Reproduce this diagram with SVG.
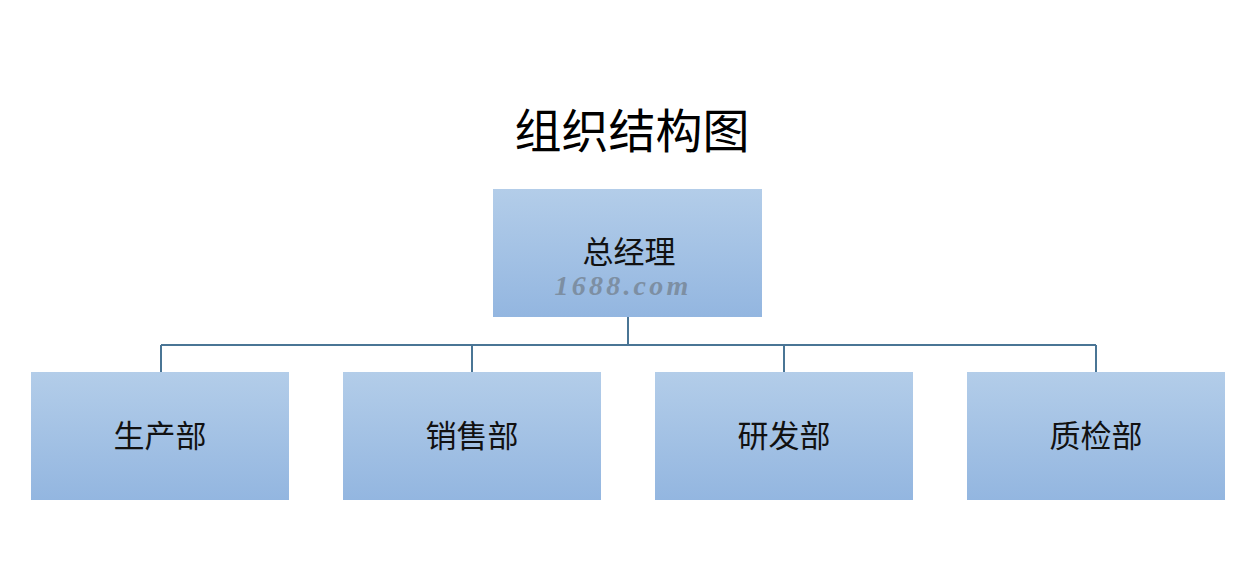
<svg xmlns="http://www.w3.org/2000/svg" width="1240" height="567" viewBox="0 0 1240 567">
<defs>
<linearGradient id="g" x1="0" y1="0" x2="0" y2="1">
<stop offset="0" stop-color="#B3CDE9"/>
<stop offset="1" stop-color="#93B6E0"/>
</linearGradient>
<style>
.box{fill:url(#g);}
.lbl{font-family:"Noto Sans CJK SC","Noto Sans CJK JP",sans-serif;font-size:31px;fill:#111;text-anchor:middle;}
.title{font-family:"Noto Sans CJK SC",sans-serif;font-size:47px;fill:#000;text-anchor:middle;}
.conn{fill:none;stroke:#4A7595;stroke-width:2;}
.wm{font-family:"Liberation Serif",serif;font-style:italic;font-weight:bold;font-size:28px;fill:#7D8FA3;text-anchor:middle;letter-spacing:3.2px;}
</style>
</defs>
<rect width="1240" height="567" fill="#FFFFFF"/>
<text class="title" x="632" y="148">组织结构图</text>
<g id="connectors">
<path class="conn" d="M628 317V345M161 345H1096M161 345V372M472 345V372M784 345V372M1096 345V372"/>
</g>
<g id="gm">
<rect class="box" x="493" y="189" width="269" height="128"/>
<text class="lbl" x="629" y="263">总经理</text>
<text class="wm" x="623" y="295">1688.com</text>
</g>
<g id="prod">
<rect class="box" x="31" y="372" width="258" height="128"/>
<text class="lbl" x="160" y="447">生产部</text>
</g>
<g id="sales">
<rect class="box" x="343" y="372" width="258" height="128"/>
<text class="lbl" x="472" y="447">销售部</text>
</g>
<g id="rd">
<rect class="box" x="655" y="372" width="258" height="128"/>
<text class="lbl" x="784" y="447">研发部</text>
</g>
<g id="qc">
<rect class="box" x="967" y="372" width="258" height="128"/>
<text class="lbl" x="1096" y="447">质检部</text>
</g>
</svg>
